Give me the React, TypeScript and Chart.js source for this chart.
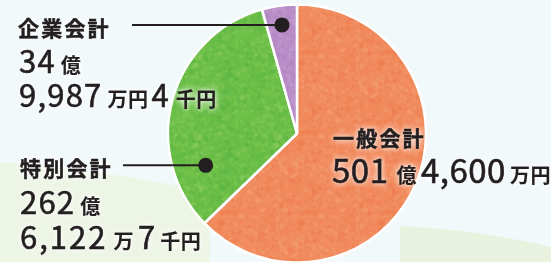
import React, { useEffect, useRef } from "react";
import { Chart, registerables } from "chart.js";

Chart.register(...registerables);

// ---- data (values in 万円) ----
const categories = ["一般会計", "特別会計", "企業会計"];
const values = [5014600, 2626122.7, 349987.4];
const baseColors = ["#f18a5c", "#6cbf46", "#b98ec8"];
const lightColors = ["#f6a980", "#93d166", "#cbaad8"];
const darkColors = ["#ed774b", "#52b046", "#ab7fbd"];

// label texts, split into [text, isUnit]
const label0: [string, boolean][] = [["501", false], ["億", true], ["4,600", false], ["万円", true]];
const label1a: [string, boolean][] = [["262", false], ["億", true]];
const label1b: [string, boolean][] = [["6,122", false], ["万", true], ["7", false], ["千円", true]];
const label2a: [string, boolean][] = [["34", false], ["億", true]];
const label2b: [string, boolean][] = [["9,987", false], ["万円", true], ["4", false], ["千円", true]];

const FONT = "'Noto Sans CJK JP', 'Noto Sans', sans-serif";
const INK = "#231f20";
const GLOW = "0 0 5px rgba(255,255,255,0.95), 0 0 9px rgba(255,255,255,0.8)";

function makePattern(base: string, light: string, dark: string, seed: number): CanvasPattern | string {
  const size = 80;
  const c = document.createElement("canvas");
  c.width = size;
  c.height = size;
  const g = c.getContext("2d");
  if (!g) return base;
  g.fillStyle = base;
  g.fillRect(0, 0, size, size);
  let s = seed >>> 0;
  const next = () => {
    s = (Math.imul(s, 1664525) + 1013904223) >>> 0;
    return s / 4294967296;
  };
  for (let i = 0; i < 700; i++) {
    const x = next() * size;
    const y = next() * size;
    const r = 0.6 + next() * 2.2;
    g.globalAlpha = 0.12 + next() * 0.2;
    g.fillStyle = next() > 0.5 ? light : dark;
    for (const dx of [-size, 0, size]) {
      for (const dy of [-size, 0, size]) {
        g.beginPath();
        g.arc(x + dx, y + dy, r, 0, Math.PI * 2);
        g.fill();
      }
    }
  }
  g.globalAlpha = 1;
  const ctx = document.createElement("canvas").getContext("2d");
  return ctx ? ctx.createPattern(c, "repeat") || base : base;
}

const backgroundPlugin = {
  id: "bg",
  beforeDraw(chart: any) {
    const { ctx, width, height } = chart;
    ctx.save();
    ctx.fillStyle = "#f2f9fb";
    ctx.fillRect(0, 0, width, height);
    ctx.fillStyle = "#edf5e5";
    ctx.beginPath();
    ctx.moveTo(0, 162);
    ctx.quadraticCurveTo(90, 168, 210, 192);
    ctx.lineTo(210, height);
    ctx.lineTo(0, height);
    ctx.closePath();
    ctx.fill();
    ctx.fillStyle = "#e9f2de";
    ctx.beginPath();
    ctx.moveTo(400, 226);
    ctx.quadraticCurveTo(480, 230, width, 247);
    ctx.lineTo(width, height);
    ctx.lineTo(400, height);
    ctx.closePath();
    ctx.fill();
    ctx.restore();
  },
};

// leader: slice index, fraction along slice angle, fraction of radius, x where line ends
const leaders = [
  { index: 2, angleFrac: 0.5, radiusFrac: 0.85, endX: 132 },
  { index: 1, angleFrac: 0.21, radiusFrac: 0.75, endX: 123 },
];

const leaderPlugin = {
  id: "leaders",
  afterDatasetsDraw(chart: any) {
    const { ctx } = chart;
    const meta = chart.getDatasetMeta(0);
    ctx.save();
    for (const l of leaders) {
      const arc = meta.data[l.index];
      const { x, y, startAngle, endAngle, outerRadius } = arc.getProps(
        ["x", "y", "startAngle", "endAngle", "outerRadius"],
        true
      );
      const a = startAngle + (endAngle - startAngle) * l.angleFrac;
      const px = x + Math.cos(a) * outerRadius * l.radiusFrac;
      const py = y + Math.sin(a) * outerRadius * l.radiusFrac;
      ctx.strokeStyle = INK;
      ctx.lineWidth = 2;
      ctx.beginPath();
      ctx.moveTo(l.endX, py);
      ctx.lineTo(px, py);
      ctx.stroke();
      ctx.fillStyle = INK;
      ctx.beginPath();
      ctx.arc(px, py, 7.5, 0, Math.PI * 2);
      ctx.fill();
    }
    ctx.restore();
  },
};

type Part = [string, boolean];

function TextLine(props: {
  x: number;
  baseline: number;
  parts: Part[];
  num: number;
  unit: number;
  numSpacing: number;
  gaps: number[];
}) {
  const { x, baseline, parts, num, unit, numSpacing, gaps } = props;
  const fsMax = Math.max(num, unit);
  return (
    <div
      style={{
        position: "absolute",
        left: x,
        top: baseline - 0.436 * fsMax,
        fontSize: fsMax,
        lineHeight: 0,
        whiteSpace: "nowrap",
        fontFamily: FONT,
        color: INK,
        textShadow: GLOW,
      }}
    >
      {parts.map(([t, isUnit], i) => (
        <span
          key={i}
          style={{
            fontSize: isUnit ? unit : num,
            fontWeight: isUnit ? 700 : 400,
            letterSpacing: isUnit ? 0.5 : numSpacing,
            marginLeft: i === 0 ? 0 : gaps[i - 1],
            WebkitTextStroke: isUnit ? "0.1px " + INK : "0.6px " + INK,
          }}
        >
          {t}
        </span>
      ))}
    </div>
  );
}

function Title(props: { x: number; baseline: number; text: string }) {
  const fs = 21;
  return (
    <div
      style={{
        position: "absolute",
        left: props.x,
        top: props.baseline - 0.436 * fs,
        fontSize: fs,
        lineHeight: 0,
        fontWeight: 700,
        letterSpacing: 2.2,
        whiteSpace: "nowrap",
        fontFamily: FONT,
        color: INK,
        WebkitTextStroke: "0.5px " + INK,
        textShadow: GLOW,
      }}
    >
      {props.text}
    </div>
  );
}

export default function App() {
  const ref = useRef<HTMLCanvasElement | null>(null);

  useEffect(() => {
    if (!ref.current) return;
    const patterns = values.map((_, i) =>
      makePattern(baseColors[i], lightColors[i], darkColors[i], 12345 + i * 977)
    );
    const chart = new Chart(ref.current, {
      type: "pie",
      data: {
        labels: categories,
        datasets: [
          {
            data: values,
            backgroundColor: patterns as any,
            borderColor: "#ffffff",
            borderWidth: 2.5,
          },
        ],
      },
      options: {
        animation: false,
        responsive: false,
        maintainAspectRatio: false,
        radius: 129,
        layout: { padding: { left: 168, right: 125, top: 5, bottom: 0 } },
        plugins: {
          legend: { display: false },
          tooltip: { enabled: false },
        },
      } as any,
      plugins: [backgroundPlugin, leaderPlugin],
    });
    return () => chart.destroy();
  }, []);

  return (
    <div
      style={{
        position: "fixed",
        left: 0,
        top: 0,
        width: 551,
        height: 262,
        overflow: "hidden",
      }}
    >
      <canvas ref={ref} width={551} height={262} style={{ display: "block" }} />
      <Title x={18} baseline={36} text={categories[2]} />
      <TextLine x={19} baseline={74} parts={label2a} num={31} unit={20} numSpacing={1.2} gaps={[5]} />
      <TextLine x={19} baseline={108} parts={label2b} num={31} unit={20} numSpacing={1.2} gaps={[5, 3, 6]} />
      <Title x={20} baseline={176} text={categories[1]} />
      <TextLine x={20} baseline={215} parts={label1a} num={31} unit={20} numSpacing={1.2} gaps={[5]} />
      <TextLine x={20} baseline={250} parts={label1b} num={31} unit={20} numSpacing={2} gaps={[6, 4, 3]} />
      <Title x={333} baseline={146} text={categories[0]} />
      <TextLine x={332} baseline={183} parts={label0} num={33} unit={20} numSpacing={0.5} gaps={[8, 4, 4]} />
    </div>
  );
}
